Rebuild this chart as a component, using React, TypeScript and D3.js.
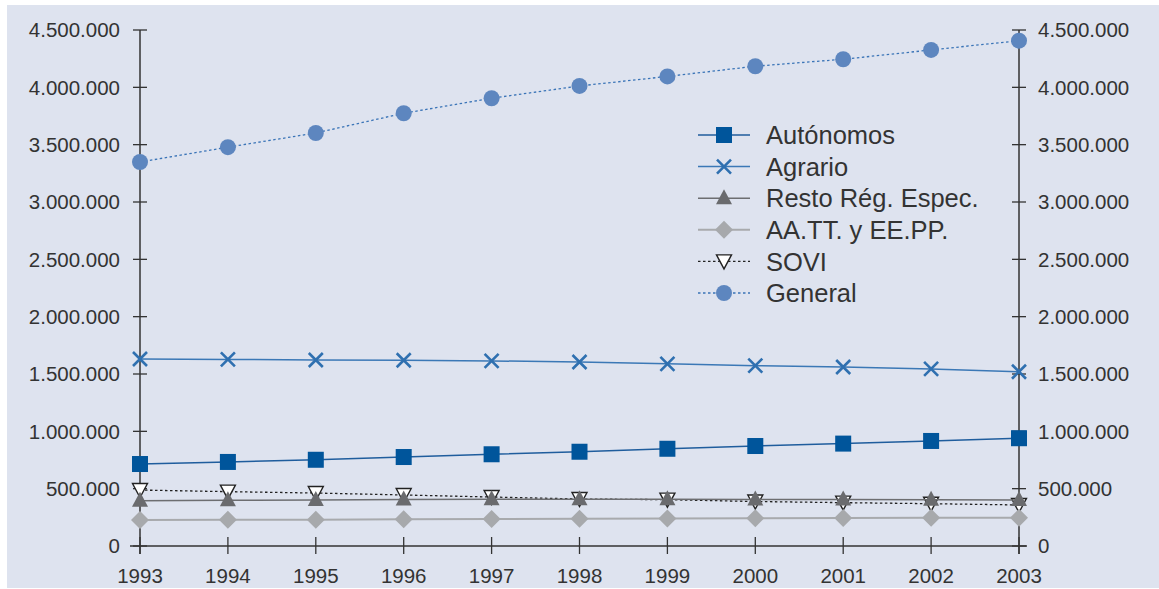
import React from "react";
import * as d3 from "d3";

const years = [1993, 1994, 1995, 1996, 1997, 1998, 1999, 2000, 2001, 2002, 2003];
const yTicks = [0, 500000, 1000000, 1500000, 2000000, 2500000, 3000000, 3500000, 4000000, 4500000];

const autonomos = [715000, 733000, 752000, 776000, 800000, 822000, 848000, 872000, 893000, 916000, 940000];
const agrario = [1631000, 1627000, 1622000, 1620000, 1614000, 1605000, 1589000, 1573000, 1561000, 1544000, 1520000];
const resto = [395000, 398000, 402000, 405000, 407000, 407000, 407000, 406000, 405000, 404000, 401000];
const aatt = [226000, 228000, 230000, 233000, 235000, 238000, 240000, 242000, 244000, 246000, 247000];
const sovi = [488000, 474000, 462000, 445000, 427000, 410000, 404000, 388000, 378000, 369000, 358000];
const general = [3349000, 3478000, 3602000, 3774000, 3905000, 4012000, 4095000, 4184000, 4245000, 4326000, 4407000];

const seriesNames = ["Autónomos", "Agrario", "Resto Rég. Espec.", "AA.TT. y EE.PP.", "SOVI", "General"];

type Series = {
  name: string;
  values: number[];
  color: string;
  width: number;
  dash?: string;
  marker: "square" | "x" | "tri" | "diamond" | "tridown" | "circle";
  fill: string;
};

const series: Series[] = [
  { name: seriesNames[0], values: autonomos, color: "#1f5d9d", width: 1.5, marker: "square", fill: "#00559b" },
  { name: seriesNames[1], values: agrario, color: "#3b78b6", width: 1.5, marker: "x", fill: "#2f70b0" },
  { name: seriesNames[2], values: resto, color: "#6d6e71", width: 1.5, marker: "tri", fill: "#6a6b6e" },
  { name: seriesNames[3], values: aatt, color: "#a8aaad", width: 2, marker: "diamond", fill: "#a7a9ac" },
  { name: seriesNames[4], values: sovi, color: "#222", width: 1.3, dash: "2.5,2.5", marker: "tridown", fill: "#fff" },
  { name: seriesNames[5], values: general, color: "#3a74b7", width: 1.3, dash: "2.5,2.5", marker: "circle", fill: "#5d86bf" },
];

function Marker({ s, x, y }: { s: Series; x: number; y: number }) {
  switch (s.marker) {
    case "square":
      return <rect x={x - 8} y={y - 8} width={16} height={16} fill={s.fill} />;
    case "x":
      return (
        <path
          d={`M${x - 7},${y - 7}L${x + 7},${y + 7}M${x - 7},${y + 7}L${x + 7},${y - 7}`}
          stroke={s.fill}
          strokeWidth={2.6}
        />
      );
    case "tri":
      return <path d={`M${x},${y - 9}L${x + 8},${y + 6}L${x - 8},${y + 6}Z`} fill={s.fill} />;
    case "diamond":
      return <path d={`M${x},${y - 9}L${x + 9},${y}L${x},${y + 9}L${x - 9},${y}Z`} fill={s.fill} />;
    case "tridown":
      return (
        <path
          d={`M${x - 7.5},${y - 6.5}L${x + 7.5},${y - 6.5}L${x},${y + 7.5}Z`}
          fill="#fff"
          stroke="#222"
          strokeWidth={1.4}
        />
      );
    case "circle":
      return <circle cx={x} cy={y} r={8} fill={s.fill} />;
  }
}

export default function App() {
  const W = 1159;
  const H = 589;
  const x = d3.scaleLinear().domain([1993, 2003]).range([140, 1019]);
  const y = d3.scaleLinear().domain([0, 4500000]).range([546, 30]);
  const fmt = (v: number) => d3.format(",")(v).replace(/,/g, ".");
  const axisColor = "#333";
  const textColor = "#333";
  const font = "'Liberation Sans', Arial, sans-serif";
  const line = d3
    .line<number>()
    .x((_, i) => x(years[i]))
    .y((d) => y(d));

  const drawOrder = [...series].reverse();
  const legendX = 698;
  const legendY0 = 135;
  const legendDy = 31.6;

  return (
    <svg
      width={W}
      height={H}
      style={{ position: "absolute", left: 0, top: 0 }}
      fontFamily={font}
    >
      <rect x={0} y={0} width={W} height={H} fill="#fff" />
      <rect x={7} y={5} width={W - 7} height={H - 6} fill="#dee3ef" />

      {/* axes */}
      <line x1={130} x2={1027} y1={y(0)} y2={y(0)} stroke={axisColor} strokeWidth={1.5} />
      <line x1={x(1993)} x2={x(1993)} y1={y(4500000)} y2={554} stroke={axisColor} strokeWidth={1.5} />
      <line x1={x(2003)} x2={x(2003)} y1={y(4500000)} y2={554} stroke={axisColor} strokeWidth={1.5} />
      {yTicks.map((t) => (
        <g key={t}>
          <line x1={133} x2={147} y1={y(t)} y2={y(t)} stroke={axisColor} strokeWidth={1.3} />
          <line x1={1012} x2={1026} y1={y(t)} y2={y(t)} stroke={axisColor} strokeWidth={1.3} />
          <text x={120} y={y(t)} dy="0.36em" textAnchor="end" fontSize={20.5} fill={textColor}>
            {fmt(t)}
          </text>
          <text x={1038} y={y(t)} dy="0.36em" textAnchor="start" fontSize={20.5} fill={textColor}>
            {fmt(t)}
          </text>
        </g>
      ))}
      {years.map((yr) => (
        <g key={yr}>
          <line x1={x(yr)} x2={x(yr)} y1={537} y2={554} stroke={axisColor} strokeWidth={1.3} />
          <text x={x(yr)} y={583} textAnchor="middle" fontSize={20.5} fill={textColor}>
            {yr}
          </text>
        </g>
      ))}

      {/* series */}
      {drawOrder.map((s) => (
        <g key={s.name}>
          <path
            d={line(s.values) || ""}
            fill="none"
            stroke={s.color}
            strokeWidth={s.width}
            strokeDasharray={s.dash}
          />
          {s.values.map((v, i) => (
            <Marker key={i} s={s} x={x(years[i])} y={y(v)} />
          ))}
        </g>
      ))}

      {/* legend */}
      {series.map((s, i) => {
        const ly = legendY0 + i * legendDy;
        return (
          <g key={s.name}>
            <line
              x1={legendX}
              x2={legendX + 52}
              y1={ly}
              y2={ly}
              stroke={s.color}
              strokeWidth={s.width}
              strokeDasharray={s.dash}
            />
            <Marker s={s} x={legendX + 26} y={ly} />
            <text x={766} y={ly} dy="0.36em" fontSize={25.5} fill={textColor}>
              {s.name}
            </text>
          </g>
        );
      })}
    </svg>
  );
}
